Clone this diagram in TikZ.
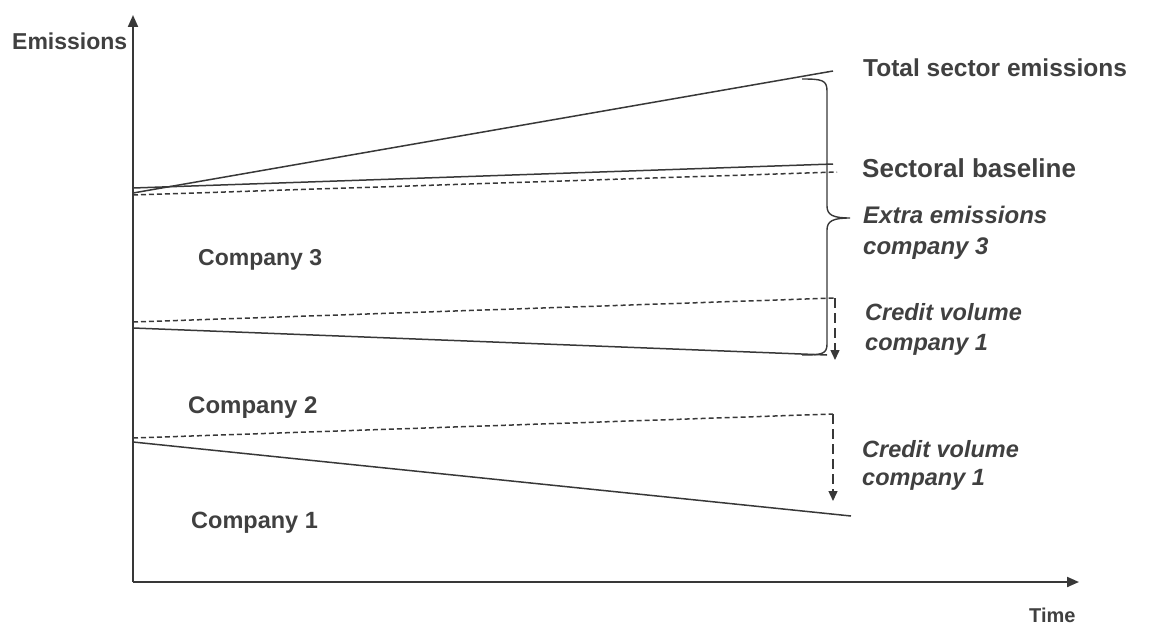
\documentclass[tikz,border=0pt]{standalone}
\usepackage{fontspec}
\setmainfont{Liberation Sans}
\usetikzlibrary{arrows.meta}
\definecolor{txt}{HTML}{404040}
\definecolor{ln}{HTML}{383838}
\tikzset{
  lbl/.style={anchor=base west, inner sep=0pt, text=txt, font=\bfseries},
  ilbl/.style={anchor=base west, inner sep=0pt, text=txt, font=\bfseries\itshape, align=left},
  axisline/.style={draw=ln, line width=2pt, -{Triangle[length=12pt,width=10pt]}},
  solidline/.style={draw=ln, line width=1.5pt},
  dashline/.style={draw=ln, line width=1.5pt, dash pattern=on 5pt off 3pt},
  vdash/.style={draw=ln, line width=1.4pt, dash pattern=on 10pt off 5pt, -{Triangle[length=10pt,width=9pt]}},
  bracestyle/.style={draw=ln, line width=1.4pt}
}
\begin{document}
\begin{tikzpicture}[x=1pt,y=-1pt]
\useasboundingbox (0,0) rectangle (1158,626);
% axes
\coordinate (O) at (133,582);
\coordinate (Ytop) at (133,15);
\coordinate (Xend) at (1079,582);
\draw[axisline] (O) -- (Ytop);
\draw[axisline] (O) -- (Xend);
\node[lbl, font=\bfseries\fontsize{23}{26}\selectfont] (emis) at (12,49) {Emissions};
\node[lbl, font=\bfseries\fontsize{20}{24}\selectfont] (time) at (1029,622) {Time};
% total sector emissions
\coordinate (t0) at (133,193);
\coordinate (t1) at (833,71);
\draw[solidline] (t0) -- (t1);
% sectoral baseline
\coordinate (s0) at (133,188);
\coordinate (s1) at (833,164);
\draw[solidline] (s0) -- (s1);
\coordinate (sd0) at (133,195);
\coordinate (sd1) at (837,172);
\draw[dashline] (sd0) -- (sd1);
% company 3 boundary
\coordinate (c3d0) at (133,322);
\coordinate (c3d1) at (835,298);
\coordinate (c3d2) at (835,360);
\draw[dashline] (c3d0) -- (c3d1);
\draw[vdash] (c3d1) -- (c3d2);
\coordinate (c3s0) at (133,328);
\coordinate (c3s1) at (827,355);
\draw[solidline] (c3s0) -- (c3s1);
% company 2 boundary
\coordinate (c2d0) at (133,438);
\coordinate (c2d1) at (833,414);
\coordinate (c2d2) at (833,501);
\draw[dashline] (c2d0) -- (c2d1);
\draw[vdash] (c2d1) -- (c2d2);
\coordinate (c1s0) at (133,442);
\coordinate (c1s1) at (851,516);
\draw[solidline] (c1s0) -- (c1s1);
% brace
\draw[bracestyle] (802,79) .. controls (822,79) and (827,80) .. (827,91)
  -- (827,206) .. controls (827,215) and (833,218) .. (850,218)
  .. controls (833,218) and (827,221) .. (827,230)
  -- (827,344) .. controls (827,354) and (822,355) .. (802,355);
% labels
\node[lbl, font=\bfseries\fontsize{24.5}{28}\selectfont] (tot) at (863,76) {Total sector emissions};
\node[lbl, font=\bfseries\fontsize{26}{30}\selectfont] (sec) at (862,177) {Sectoral baseline};
\node[ilbl, font=\bfseries\itshape\fontsize{24}{31}\selectfont] (extra) at (863,254) {Extra emissions\\company 3};
\node[ilbl, font=\bfseries\itshape\fontsize{23.5}{30}\selectfont] (cv1) at (865,350) {Credit volume\\company 1};
\node[ilbl, font=\bfseries\itshape\fontsize{23.5}{28.5}\selectfont] (cv2) at (862,485.5) {Credit volume\\company 1};
\node[lbl, font=\bfseries\fontsize{23}{28}\selectfont] (comp3) at (198,265) {Company 3};
\node[lbl, font=\bfseries\fontsize{24}{28}\selectfont] (comp2) at (188,413) {Company 2};
\node[lbl, font=\bfseries\fontsize{23.5}{28}\selectfont] (comp1) at (191,528) {Company 1};
\end{tikzpicture}
\end{document}
